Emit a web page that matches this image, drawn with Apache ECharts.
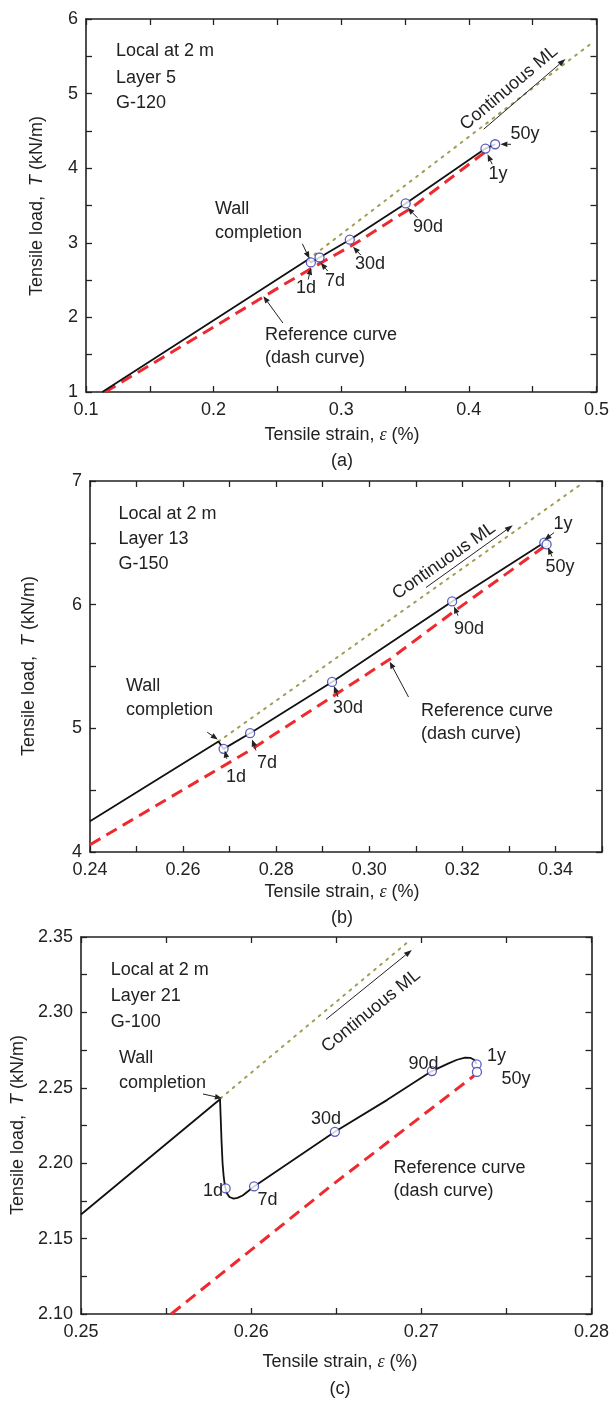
<!DOCTYPE html>
<html><head><meta charset="utf-8">
<script src="https://cdn.jsdelivr.net/npm/echarts@6.0.0/dist/echarts.min.js"></script>
<style>html,body{margin:0;padding:0;background:#fff}#c{width:612px;height:1403px}</style>
</head><body><div id="c"></div>
<script>
// ---------- Panel (a): Layer 5, G-120 ----------
const aMeasuredStrain = [0.1128, 0.2740, 0.2762, 0.2830, 0.3067, 0.3505, 0.4130, 0.4206];
const aMeasuredLoad   = [1.000, 2.777, 2.737, 2.803, 3.042, 3.528, 4.263, 4.321];
const aMarkerStrain   = [0.2762, 0.2830, 0.3067, 0.3505, 0.4130, 0.4206];
const aMarkerLoad     = [2.737, 2.803, 3.042, 3.528, 4.263, 4.321];
const aRefStrain      = [0.115, 0.200, 0.252, 0.286, 0.309, 0.356, 0.413];
const aRefLoad        = [1.00, 1.87, 2.41, 2.75, 2.97, 3.48, 4.22];
const aMLStrain       = [0.274, 0.497];
const aMLLoad         = [2.777, 5.687];

// ---------- Panel (b): Layer 13, G-150 ----------
const bMeasuredStrain = [0.2400, 0.2676, 0.2687, 0.2744, 0.2920, 0.3178, 0.3376, 0.3381];
const bMeasuredLoad   = [4.248, 4.893, 4.834, 4.961, 5.375, 6.026, 6.502, 6.487];
const bMarkerStrain   = [0.2687, 0.2744, 0.2920, 0.3178, 0.3376, 0.3381];
const bMarkerLoad     = [4.834, 4.961, 5.375, 6.026, 6.502, 6.487];
const bRefStrain      = [0.2400, 0.2743, 0.3045, 0.3179, 0.3376];
const bRefLoad        = [4.059, 4.821, 5.561, 5.937, 6.470];
const bMLStrain       = [0.2676, 0.3460];
const bMLLoad         = [4.893, 6.987];

// ---------- Panel (c): Layer 21, G-100 ----------
const cMeasuredStrain = [0.25000, 0.25817, 0.25821, 0.25826, 0.25832, 0.25838, 0.25845, 0.25855, 0.25872, 0.25897, 0.25920, 0.25950, 0.25980, 0.26017, 0.26492, 0.26800, 0.27062, 0.27160, 0.27210, 0.27257, 0.27290, 0.27310, 0.27325];
const cMeasuredLoad   = [2.1660, 2.2424, 2.2300, 2.2143, 2.2000, 2.1918, 2.1855, 2.1805, 2.1776, 2.1765, 2.1770, 2.1786, 2.1812, 2.1846, 2.2208, 2.2420, 2.2611, 2.2662, 2.2686, 2.2700, 2.2698, 2.2686, 2.2658];
const cMarkerStrain   = [0.25850, 0.26017, 0.26492, 0.27062, 0.27325, 0.27327];
const cMarkerLoad     = [2.1833, 2.1846, 2.2208, 2.2611, 2.2656, 2.2605];
const cRefStrain      = [0.2553, 0.2647, 0.2731];
const cRefLoad        = [2.100, 2.185, 2.258];
const cMLStrain       = [0.2582, 0.2692];
const cMLLoad         = [2.2430, 2.3466];

const markerNames = ['1d', '7d', '30d', '90d', '1y', '50y'];

// axis ranges: [min, max, tick interval, label step, decimals]
const xRanges = [[0.1, 0.5, 0.05, 0.1, 1], [0.24, 0.35, 0.01, 0.02, 2], [0.25, 0.28, 0.005, 0.01, 2]];
const yRanges = [[1, 6, 0.5, 1, 0], [4, 7, 0.5, 1, 0], [2.10, 2.35, 0.025, 0.05, 2]];

const zip = (xs, ys) => xs.map((x, i) => [x, ys[i]]);
const isMult = (v, s) => Math.abs(v / s - Math.round(v / s)) < 1e-6;
const FONT = '"Liberation Sans", Arial, sans-serif';
const INK = '#222';

const grids = [
  {left: 86, top: 19, width: 511, height: 373},
  {left: 90, top: 481, width: 512, height: 371},
  {left: 81, top: 937, width: 517, height: 377}
];

function makeAxis(kind, gi, r, pos, showLabel) {
  const [min, max, interval, labStep, dec] = r;
  const label = {
    show: showLabel, color: INK, fontSize: 18, fontFamily: FONT, margin: kind === 'x' ? 9 : 8,
    showMinLabel: true, showMaxLabel: true,
    formatter: v => isMult(v, labStep) ? v.toFixed(dec) : ''
  };
  if (kind === 'x') { label.alignMinLabel = 'center'; label.alignMaxLabel = 'center'; }
  return {
    type: 'value', gridIndex: gi, min, max, interval, position: pos, scale: true,
    axisLine: {show: true, onZero: false, lineStyle: {color: INK, width: 1.6}},
    axisTick: {show: true, inside: true, length: 6, lineStyle: {color: INK, width: 1.3}},
    splitLine: {show: false},
    axisLabel: label
  };
}

const xAxis = [], yAxis = [];
for (let g = 0; g < 3; g++) {
  xAxis.push(makeAxis('x', g, xRanges[g], 'bottom', true));
  xAxis.push(makeAxis('x', g, xRanges[g], 'top', false));
  yAxis.push(makeAxis('y', g, yRanges[g], 'left', true));
  yAxis.push(makeAxis('y', g, yRanges[g], 'right', false));
}

const panels = [
  {ms: aMeasuredStrain, ml: aMeasuredLoad, ks: aMarkerStrain, kl: aMarkerLoad, rs: aRefStrain, rl: aRefLoad, ds: aMLStrain, dl: aMLLoad},
  {ms: bMeasuredStrain, ml: bMeasuredLoad, ks: bMarkerStrain, kl: bMarkerLoad, rs: bRefStrain, rl: bRefLoad, ds: bMLStrain, dl: bMLLoad},
  {ms: cMeasuredStrain, ml: cMeasuredLoad, ks: cMarkerStrain, kl: cMarkerLoad, rs: cRefStrain, rl: cRefLoad, ds: cMLStrain, dl: cMLLoad}
];

const series = [];
panels.forEach((p, g) => {
  const ax = {xAxisIndex: 2 * g, yAxisIndex: 2 * g};
  series.push({type: 'line', ...ax, name: 'ref' + g, data: zip(p.rs, p.rl), smooth: false, symbol: 'none', z: 2,
    lineStyle: {color: '#ee2a30', width: 3, type: [12, 7]}});
  series.push({type: 'line', ...ax, name: 'ml' + g, data: zip(p.ds, p.dl), symbol: 'none', z: 2,
    lineStyle: {color: '#a39c55', width: 2, type: [2, 6], cap: 'round'}});
  series.push({type: 'line', ...ax, name: 'meas' + g, data: zip(p.ms, p.ml), smooth: false, symbol: 'none', z: 3,
    lineStyle: {color: '#111', width: 1.8, join: 'round'}});
  series.push({type: 'scatter', ...ax, name: 'mark' + g, data: zip(p.ks, p.kl).map((d, i) => ({value: d, name: markerNames[i]})),
    symbol: 'circle', symbolSize: 9, z: 4,
    itemStyle: {color: '#fff', borderColor: '#2f36b0', borderWidth: 1.3}});
});

// ---------- annotations (pixel layout) ----------
function txt(text, x, y, align = 'left', extra = {}) {
  return Object.assign({type: 'text', x, y, z: 100,
    style: {text, fill: INK, fontSize: 18, fontFamily: FONT, align, verticalAlign: 'middle'}}, extra);
}
function arrow(x1, y1, x2, y2, head = 7, w = 2.8) {
  const dx = x2 - x1, dy = y2 - y1, L = Math.hypot(dx, dy), ux = dx / L, uy = dy / L;
  const bx = x2 - ux * head, by = y2 - uy * head;
  return [
    {type: 'line', z: 100, shape: {x1, y1, x2: bx, y2: by}, style: {stroke: INK, lineWidth: 1}},
    {type: 'polygon', z: 100, shape: {points: [[x2, y2], [bx - uy * w, by + ux * w], [bx + uy * w, by - ux * w]]}, style: {fill: INK}}
  ];
}
function xTitle(x, y) {
  return {type: 'text', x, y, z: 100, style: {
    text: '{n|Tensile strain, }{e|ε}{n| (%)}', align: 'center', verticalAlign: 'middle',
    rich: {n: {fontSize: 18, fontFamily: FONT, fill: INK}, e: {fontSize: 18, fontFamily: '"Liberation Serif", serif', fontStyle: 'italic', fill: INK}}}};
}
function yTitle(x, y) {
  return {type: 'text', x, y, z: 100, rotation: Math.PI / 2, style: {
    text: '{n|Tensile load,  }{i|T}{n| (kN/m)}', align: 'center', verticalAlign: 'middle',
    rich: {n: {fontSize: 18, fontFamily: FONT, fill: INK}, i: {fontSize: 18, fontFamily: FONT, fontStyle: 'italic', fill: INK}}}};
}
const deg = Math.PI / 180;
const graphic = [
  // panel a
  txt('Local at 2 m', 116, 51), txt('Layer 5', 116, 78), txt('G-120', 116, 103),
  txt('Wall', 215, 209), txt('completion', 215, 233),
  txt('1d', 306, 288, 'center'), txt('7d', 335, 281, 'center'), txt('30d', 370, 264, 'center'),
  txt('90d', 428, 227, 'center'), txt('1y', 498, 174, 'center'), txt('50y', 525, 134, 'center'),
  txt('Reference curve', 265, 335), txt('(dash curve)', 265, 358),
  txt('Continuous ML', 509, 88, 'center', {rotation: 40 * deg}),
  ...arrow(302.4, 243.8, 309.4, 258.5), ...arrow(308.2, 279.5, 311, 267.8), ...arrow(327.7, 271, 320.7, 262.8),
  ...arrow(360.8, 255, 353, 246.8), ...arrow(417.4, 217.7, 407.6, 207.7), ...arrow(492.2, 164.3, 487.6, 154.3),
  ...arrow(511, 144.3, 500.4, 144.3), ...arrow(282.9, 323, 263.4, 296.2), ...arrow(483.7, 129.2, 565.5, 59, 8),
  xTitle(342, 435), yTitle(37, 206), txt('(a)', 342, 461, 'center'),
  // panel b
  txt('Local at 2 m', 118.5, 514), txt('Layer 13', 118.5, 539), txt('G-150', 118.5, 564),
  txt('Wall', 126, 686), txt('completion', 126, 710),
  txt('1d', 236, 777, 'center'), txt('7d', 267, 763, 'center'), txt('30d', 348, 708, 'center'),
  txt('90d', 469, 629, 'center'), txt('1y', 563, 524, 'center'), txt('50y', 560, 567, 'center'),
  txt('Reference curve', 421, 711), txt('(dash curve)', 421, 734),
  txt('Continuous ML', 444, 561, 'center', {rotation: 35 * deg}),
  ...arrow(207.2, 732.2, 217.8, 739.5), ...arrow(226.8, 758.8, 224.8, 750.5), ...arrow(256, 750.5, 252, 739.5),
  ...arrow(338, 697, 334, 686), ...arrow(458, 615.7, 454, 606.4), ...arrow(554, 532.6, 544.5, 540),
  ...arrow(552, 556.5, 548, 547.5), ...arrow(408.5, 697, 389.7, 661.7), ...arrow(426, 587.5, 512.8, 525.3, 8),
  xTitle(342, 892), yTitle(29, 666), txt('(b)', 342, 918, 'center'),
  // panel c
  txt('Local at 2 m', 110.7, 970), txt('Layer 21', 110.7, 996), txt('G-100', 110.7, 1022),
  txt('Wall', 119, 1058), txt('completion', 119, 1083),
  txt('1d', 213, 1191, 'center'), txt('7d', 267.5, 1200, 'center'), txt('30d', 326, 1119.5, 'center'),
  txt('90d', 423.6, 1063.6, 'center'), txt('1y', 496.6, 1056, 'center'), txt('50y', 501.6, 1079, 'left'),
  txt('Reference curve', 393.5, 1168), txt('(dash curve)', 393.5, 1191),
  txt('Continuous ML', 371, 1011, 'center', {rotation: 39 * deg}),
  ...arrow(203, 1094, 221.9, 1098.2), ...arrow(326, 1019.4, 411.9, 949.9, 8),
  xTitle(340, 1362), yTitle(18, 1125), txt('(c)', 340, 1389, 'center')
];

const chart = echarts.init(document.getElementById('c'), null, {renderer: 'canvas'});
chart.setOption({
  animation: false,
  backgroundColor: '#fff',
  grid: grids,
  xAxis, yAxis, series, graphic
});
</script></body></html>
